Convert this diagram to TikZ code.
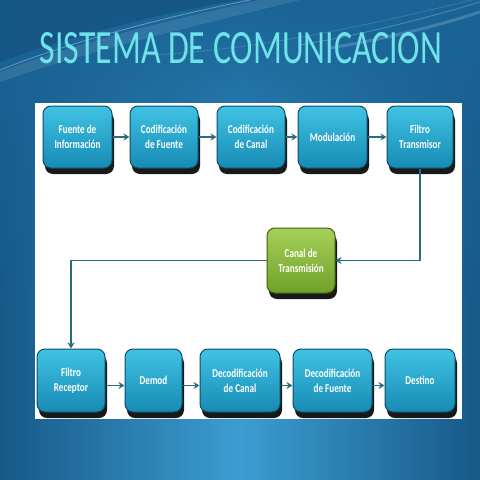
\documentclass[tikz,border=0pt]{standalone}
\usepackage{fontspec}
\setmainfont{Carlito}
\newfontfamily\boxfont{Carlito}[FakeStretch=0.76]
\usetikzlibrary{arrows.meta,shadows,fadings}
\definecolor{bgtop}{HTML}{1A6496}
\definecolor{bgside}{HTML}{165987}
\definecolor{bgmid}{HTML}{3C9DD2}
\definecolor{bgedge}{HTML}{124E7A}
\definecolor{titlec}{HTML}{6FE3EA}
\definecolor{boxtop}{HTML}{40C3E4}
\definecolor{boxbot}{HTML}{178AB4}
\definecolor{boxline}{HTML}{0F4C63}
\definecolor{greentop}{HTML}{A6D05A}
\definecolor{greenbot}{HTML}{6FA128}
\definecolor{greenline}{HTML}{3E5F12}
\definecolor{wire}{HTML}{2C6B80}
\tikzset{
  blockbox/.style={rounded corners=8pt, draw=boxline, line width=1pt,
    top color=boxtop, bottom color=boxbot, text=white,
    font=\boxfont\bfseries\fontsize{12}{15}\selectfont, align=center,
    inner sep=1pt,
    drop shadow={shadow xshift=2pt, shadow yshift=-6pt, opacity=0.9, fill=black}},
  greenbox/.style={blockbox, draw=greenline, top color=greentop, bottom color=greenbot},
  wirearrow/.style={draw=wire, line width=1.4pt, -{Stealth[length=6pt,width=7pt]}}
}
\begin{document}
\begin{tikzpicture}[x=1pt,y=-1pt]
\useasboundingbox (0,0) rectangle (480,480);
% background
\shade[left color=bgside, right color=bgside, middle color=bgmid] (0,0) rectangle (480,480);
\fill[bgtop, path fading=south] (0,0) rectangle (480,330);
\fill[bgedge, opacity=0.6] (0,0) -- (0,62) .. controls (60,40) and (150,15) .. (240,0) -- cycle;
\fill[white, opacity=0.10] (0,72) .. controls (70,45) and (160,22) .. (260,0) -- (300,0) .. controls (200,25) and (90,50) .. (0,82) -- cycle;
\draw[white, opacity=0.35, line width=0.8pt] (0,70) .. controls (70,42) and (160,18) .. (250,0);
\draw[white, opacity=0.25, line width=0.8pt] (300,45) .. controls (360,35) and (420,20) .. (480,2);
\draw[white, opacity=0.18, line width=3pt] (330,48) .. controls (390,38) and (440,25) .. (480,12);
\draw[white, opacity=0.15, line width=0.8pt] (150,55) .. controls (250,50) and (350,30) .. (480,-2);
% title
\node[anchor=base, text=titlec, inner sep=0pt] (title) at (241,63)
  {\resizebox{402pt}{31pt}{SISTEMA DE COMUNICACION}};
% white panel
\fill[white] (35,103) rectangle (462,419);
% top row
\node[blockbox, minimum width=69pt, minimum height=62pt] (fi) at (77.5,137) {Fuente de\\Información};
\node[blockbox, minimum width=68pt, minimum height=62pt] (cf) at (164,137) {Codificación\\de Fuente};
\node[blockbox, minimum width=68pt, minimum height=62pt] (cc) at (251,137) {Codificación\\de Canal};
\node[blockbox, minimum width=69pt, minimum height=62pt] (mo) at (332.5,137) {Modulación};
\node[blockbox, minimum width=66pt, minimum height=62pt] (ft) at (420,137) {Filtro\\Transmisor};
% channel
\node[greenbox, minimum width=68pt, minimum height=65pt] (ct) at (301,260.5) {Canal de\\Transmisión};
% bottom row
\node[blockbox, minimum width=68pt, minimum height=63pt] (fr) at (71,380.5) {Filtro\\Receptor};
\node[blockbox, minimum width=57pt, minimum height=63pt] (de) at (153.5,380.5) {Demod};
\node[blockbox, minimum width=80pt, minimum height=63pt] (dc) at (240,380.5) {Decodificación\\de Canal};
\node[blockbox, minimum width=79pt, minimum height=63pt] (df) at (332.5,380.5) {Decodificación\\de Fuente};
\node[blockbox, minimum width=70pt, minimum height=63pt] (ds) at (420,380.5) {Destino};
% connectors
\draw[wirearrow] (fi) -- (cf);
\draw[wirearrow] (cf) -- (cc);
\draw[wirearrow] (cc) -- (mo);
\draw[wirearrow] (mo) -- (ft);
\draw[wirearrow] (ft.south) |- (ct.east);
\draw[wirearrow] (ct.west) -| (fr.north);
\draw[wirearrow] ([yshift=-5pt]fr.east) -- ([yshift=-5pt]de.west);
\draw[wirearrow] ([yshift=-5pt]de.east) -- ([yshift=-5pt]dc.west);
\draw[wirearrow] ([yshift=-5pt]dc.east) -- ([yshift=-5pt]df.west);
\draw[wirearrow] ([yshift=-5pt]df.east) -- ([yshift=-5pt]ds.west);
\end{tikzpicture}
\end{document}
